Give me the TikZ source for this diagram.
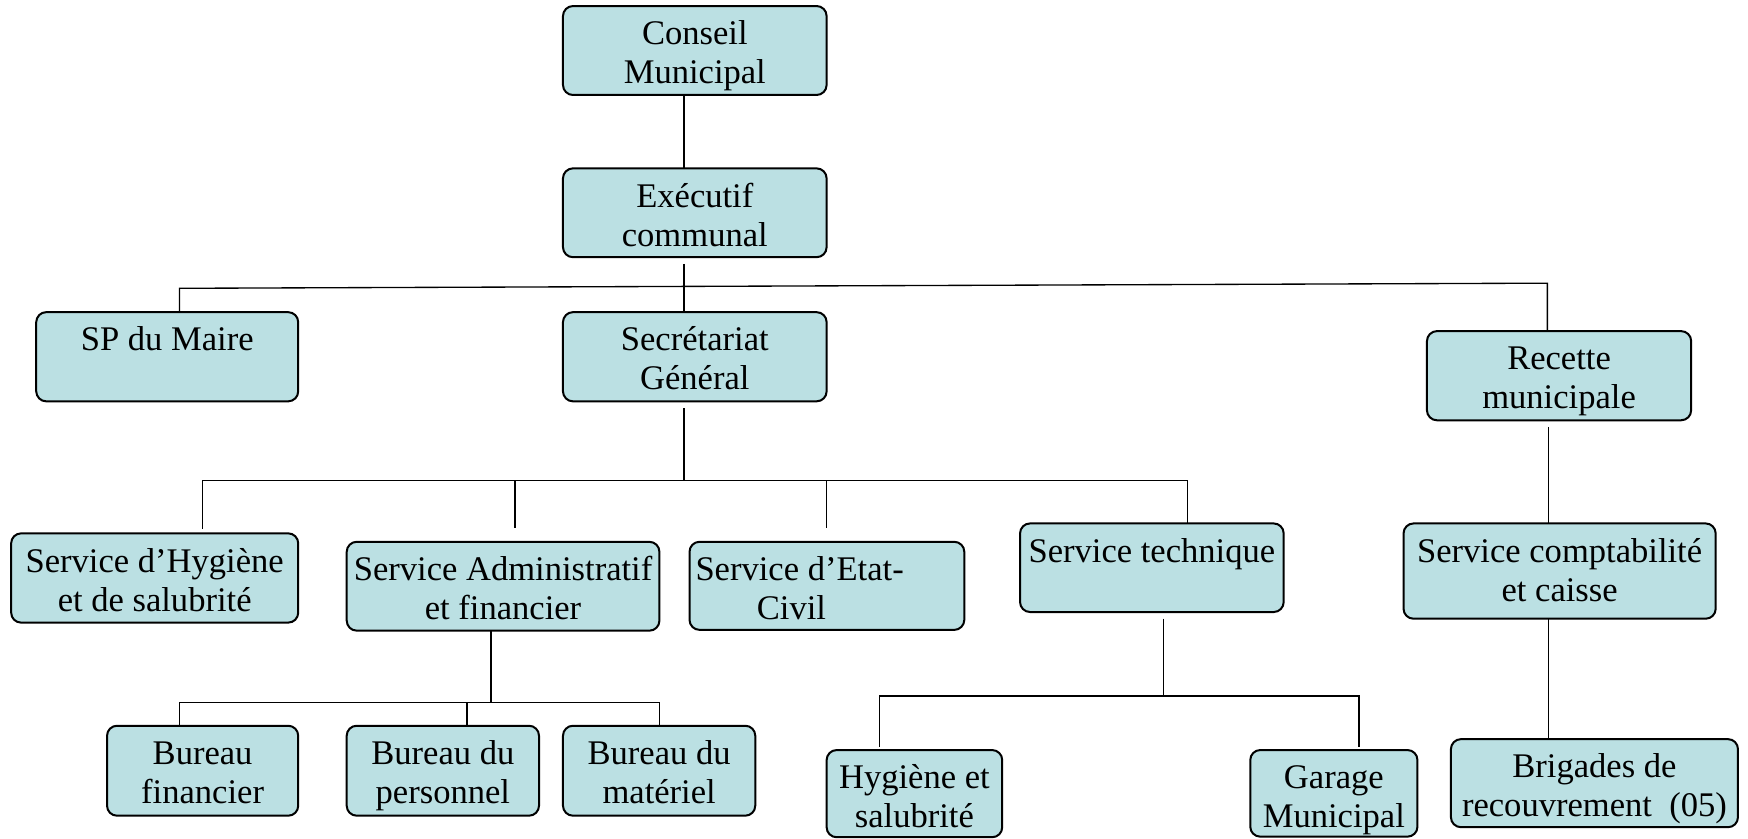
\documentclass[tikz,border=0pt]{standalone}
\usepackage{fontspec}
\setmainfont{Liberation Serif}
\usetikzlibrary{calc}
\definecolor{boxfill}{RGB}{187,224,227}
\tikzset{
  box/.style={draw=black, line width=0.9pt, fill=boxfill, rounded corners=4.5pt, inner sep=0pt, outer sep=0pt},
  txt/.style={font=\fontsize{15.5}{17.5}\selectfont, align=center, inner sep=0pt, anchor=north},
  conn/.style={draw=black, line width=0.6pt},
}
\newcommand\obox[5]{\node[box, minimum width={(#4-#2)*0.5pt}, minimum height={(#5-#3)*0.5pt}] (#1) at ({(#2+#4)/2},{(#3+#5)/2}) {};}
\newcommand\otext[2]{\node[txt] (#1-t) at ([yshift=-4.9pt]#1.north) {\strut #2};}
\begin{document}
\begin{tikzpicture}[x=0.5pt, y=-0.5pt]
\useasboundingbox (0,0) rectangle (1568,752);
% boxes
\obox{cm}{505}{5.4}{741.5}{85.2}
\obox{ex}{505}{151}{741.5}{230.7}
\obox{sp}{32.5}{280}{267.5}{360}
\obox{sg}{505}{280}{741.5}{360}
\obox{rm}{1280}{297}{1517}{377}
\obox{sh}{10}{478.4}{267.5}{558.5}
\obox{sa}{311}{486}{591.5}{565.7}
\obox{se}{618.5}{486}{865}{565}
\obox{st}{915}{469.5}{1151.5}{549}
\obox{sc}{1259}{469.5}{1539}{555}
\obox{bf}{96}{651}{267.5}{731.7}
\obox{bp}{311}{651}{483.5}{731.7}
\obox{bm}{505}{651}{677.5}{731.7}
\obox{hs}{741.5}{672.8}{899}{751}
\obox{gm}{1121.5}{672.8}{1271.5}{750.5}
\obox{br}{1301.5}{663}{1559}{742}
% texts
\otext{cm}{Conseil\\Municipal}
\otext{ex}{Exécutif\\communal}
\otext{sp}{SP du Maire}
\otext{sg}{Secrétariat\\Général}
\otext{rm}{Recette\\municipale}
\otext{sh}{Service d’Hygiène\\et de salubrité}
\otext{sa}{Service Administratif\\et financier}
\node[txt, anchor=north west, align=left] (se-t) at ([xshift=2.5pt,yshift=-4.9pt]se.north west) {\strut Service d’Etat-\\\hspace*{27.5pt}Civil};
\otext{st}{Service technique}
\otext{sc}{Service comptabilité\\et caisse}
\otext{bf}{Bureau\\financier}
\otext{bp}{Bureau du\\personnel}
\otext{bm}{Bureau du\\matériel}
\otext{hs}{Hygiène et\\salubrité}
\otext{gm}{Garage\\Municipal}
\otext{br}{Brigades de\\recouvrement\ \ (05)}
% connectors
\coordinate (trunk) at (613.5,0);
\coordinate (b1l) at (161,258.6);
\coordinate (b1r) at (1388,254);
\coordinate (b2l) at (181.5,431);
\coordinate (b2a) at (462,431);
\coordinate (b2b) at (741.5,431);
\coordinate (b2r) at (1065,431);
\coordinate (rx) at (1389,0);
\coordinate (b3m) at (440.5,630.3);
\coordinate (b3l) at (161,630.3);
\coordinate (b3c) at (419,630.3);
\coordinate (b3r) at (591.5,630.3);
\coordinate (b4m) at (1043.4,624.3);
\coordinate (b4l) at (789,624.3);
\coordinate (b4r) at (1219,624.3);
\draw[conn] (trunk |- cm.south) -- (trunk |- ex.north);
\draw[conn] ($(trunk |- ex.south)+(0,6)$) -- (trunk |- sg.north);
\draw[conn] (b1l |- sp.north) -- (b1l) -- (b1r) -- (b1r |- rm.north);
\draw[conn] ($(trunk |- sg.south)+(0,6)$) -- (trunk |- b2l);
\draw[conn] ($(b2l |- sh.north)+(0,-4)$) -- (b2l) -- (b2r) -- (b2r |- st.north);
\draw[conn] (b2a) -- ($(b2a |- sa.north)+(0,-12)$);
\draw[conn] (b2b) -- ($(b2b |- se.north)+(0,-12)$);
\draw[conn] ($(rx |- rm.south)+(0,6)$) -- (rx |- sc.north);
\draw[conn] (rx |- sc.south) -- (rx |- br.north);
\draw[conn] (b3m |- sa.south) -- (b3m);
\draw[conn] (b3l |- bf.north) -- (b3l) -- (b3r) -- (b3r |- bm.north);
\draw[conn] (b3c) -- (b3c |- bp.north);
\draw[conn] ($(b4m |- st.south)+(0,6)$) -- (b4m);
\draw[conn] ($(b4l |- hs.north)+(0,-3)$) -- (b4l) -- (b4r) -- ($(b4r |- gm.north)+(0,-3)$);
\end{tikzpicture}
\end{document}
